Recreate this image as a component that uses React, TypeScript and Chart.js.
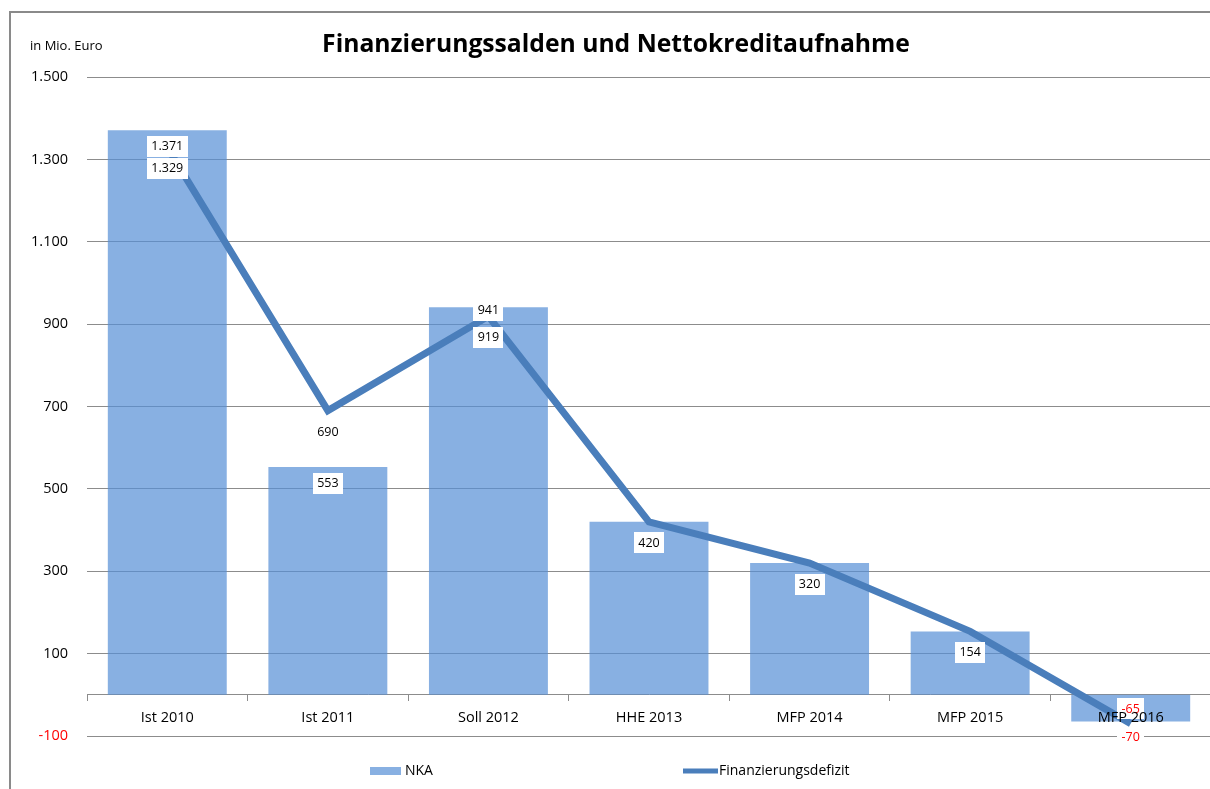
import React, { useEffect, useRef } from "react";
import { Chart, registerables } from "chart.js";

Chart.register(...registerables);

const categories = ["Ist 2010", "Ist 2011", "Soll 2012", "HHE 2013", "MFP 2014", "MFP 2015", "MFP 2016"];
const nkaValues = [1371, 553, 941, 420, 320, 154, -65];
const defizitValues = [1329, 690, 919, 420, 320, 154, -70];
const yTicks = [-100, 100, 300, 500, 700, 900, 1100, 1300, 1500];
const titleText = "Finanzierungssalden und Nettokreditaufnahme";
const unitText = "in Mio. Euro";
const legendLabels = ["NKA", "Finanzierungsdefizit"];

const FONT = "'Open Sans', sans-serif";
const BAR_COLOR = "rgba(85,142,213,0.7)";
const LINE_COLOR = "#4a7ebb";
const GRID_COLOR = "#8c8c8c";
const NEG_COLOR = "#ff0000";

const fmt = (v: number) => {
  const s = Math.abs(Math.round(v)).toString().replace(/\B(?=(\d{3})+(?!\d))/g, ".");
  return (v < 0 ? "-" : "") + s;
};

const labelPlugin = {
  id: "valueLabels",
  afterDatasetsDraw(chart: any) {
    const ctx = chart.ctx;
    const barMeta = chart.getDatasetMeta(0);
    const lineMeta = chart.getDatasetMeta(1);
    ctx.save();
    ctx.font = `12.5px ${FONT}`;
    ctx.textAlign = "center";
    ctx.textBaseline = "middle";
    const drawLabel = (v: number, x: number, y: number) => {
      const t = fmt(v);
      const w = Math.round(ctx.measureText(t).width + 9);
      const h = 21;
      ctx.fillStyle = "#ffffff";
      ctx.fillRect(Math.round(x - w / 2), Math.round(y - h / 2), w, h);
      ctx.fillStyle = v < 0 ? NEG_COLOR : "#000000";
      ctx.fillText(t, x, y + 0.5);
    };
    for (let i = 0; i < categories.length; i++) {
      const bv = nkaValues[i];
      const lv = defizitValues[i];
      const bar = barMeta.data[i];
      const pt = lineMeta.data[i];
      const ly = Math.min(pt.y + 21, chart.chartArea.bottom + 1);
      if (bv !== lv) {
        let by = bv >= 0 ? bar.y + 16 : bar.y - 13;
        if (bv >= 0 && Math.abs(ly - by) < 22) by = ly - 27;
        drawLabel(bv, bar.x, by);
      }
      drawLabel(lv, pt.x, ly);
    }
    ctx.restore();
  },
};

const decorPlugin = {
  id: "decor",
  beforeDraw(chart: any) {
    const ctx = chart.ctx;
    ctx.save();
    ctx.fillStyle = "#ffffff";
    ctx.fillRect(0, 0, chart.width, chart.height);
    ctx.restore();
  },
  afterDraw(chart: any) {
    const ctx = chart.ctx;
    ctx.save();
    // frame
    ctx.fillStyle = "#8a8a8a";
    ctx.fillRect(9, 11, 2, chart.height);
    ctx.fillRect(9, 11, chart.width, 2);
    // title
    ctx.fillStyle = "#000000";
    ctx.textAlign = "center";
    ctx.textBaseline = "alphabetic";
    ctx.font = `bold 24.7px ${FONT}`;
    ctx.fillText(titleText, 616, 52);
    // unit
    ctx.textAlign = "left";
    ctx.font = `13px ${FONT}`;
    ctx.fillText(unitText, 30, 50);
    // legend
    const ly = 771;
    ctx.fillStyle = BAR_COLOR;
    ctx.fillRect(370, 767, 31, 8);
    ctx.fillStyle = "#000000";
    ctx.font = `14px ${FONT}`;
    ctx.textBaseline = "middle";
    ctx.fillText(legendLabels[0], 405, ly);
    ctx.strokeStyle = LINE_COLOR;
    ctx.lineWidth = 5;
    ctx.beginPath();
    ctx.moveTo(683, ly);
    ctx.lineTo(718, ly);
    ctx.stroke();
    ctx.fillText(legendLabels[1], 719, ly);
    ctx.restore();
  },
};

export default function App() {
  const ref = useRef<HTMLCanvasElement | null>(null);
  useEffect(() => {
    if (!ref.current) return;
    Chart.defaults.font.family = FONT;
    const chart = new Chart(ref.current, {
      type: "bar",
      data: {
        labels: categories,
        datasets: [
          {
            type: "bar",
            label: legendLabels[0],
            data: nkaValues,
            backgroundColor: BAR_COLOR,
            borderWidth: 0,
            barPercentage: 1 / 1.35,
            categoryPercentage: 1,
            order: 1,
          },
          {
            type: "line",
            label: legendLabels[1],
            data: defizitValues,
            borderColor: LINE_COLOR,
            backgroundColor: LINE_COLOR,
            borderWidth: 7,
            pointRadius: 0,
            tension: 0,
            fill: false,
            order: 0,
          },
        ] as any,
      },
      options: {
        animation: false,
        responsive: false,
        devicePixelRatio: 1,
        layout: { padding: { left: 0, top: 77, right: 3, bottom: 53 } },
        plugins: {
          legend: { display: false },
          tooltip: { enabled: false },
          title: { display: false },
        },
        scales: {
          x: {
            type: "category",
            position: { y: 0 } as any,
            offset: true,
            grid: {
              offset: true,
              drawOnChartArea: false,
              drawTicks: true,
              tickLength: 6,
              color: GRID_COLOR,
            },
            border: { display: true, color: GRID_COLOR, width: 1 },
            ticks: { color: "#000000", font: { size: 14.5, family: FONT }, padding: 8, maxRotation: 0, z: 1 },
          },
          y: {
            type: "linear",
            min: yTicks[0],
            max: yTicks[yTicks.length - 1],
            afterBuildTicks: (scale: any) => {
              scale.ticks = yTicks.map((v) => ({ value: v }));
            },
            afterFit: (scale: any) => {
              scale.width = 87;
            },
            grid: { color: GRID_COLOR, lineWidth: 1, drawTicks: false },
            border: { display: false },
            ticks: {
              padding: 19,
              font: { size: 14.5, family: FONT },
              color: (c: any) => (c.tick && c.tick.value < 0 ? NEG_COLOR : "#000000"),
              callback: (v: any) => fmt(Number(v)),
            },
          },
        },
      } as any,
      plugins: [decorPlugin, labelPlugin],
    });
    return () => chart.destroy();
  }, []);
  return (
    <div
      style={{
        position: "fixed",
        left: 0,
        top: 0,
        width: 1210,
        height: 789,
        overflow: "hidden",
        background: "#fff",
      }}
    >
      <canvas ref={ref} width={1214} height={789} style={{ display: "block" }} />
    </div>
  );
}
